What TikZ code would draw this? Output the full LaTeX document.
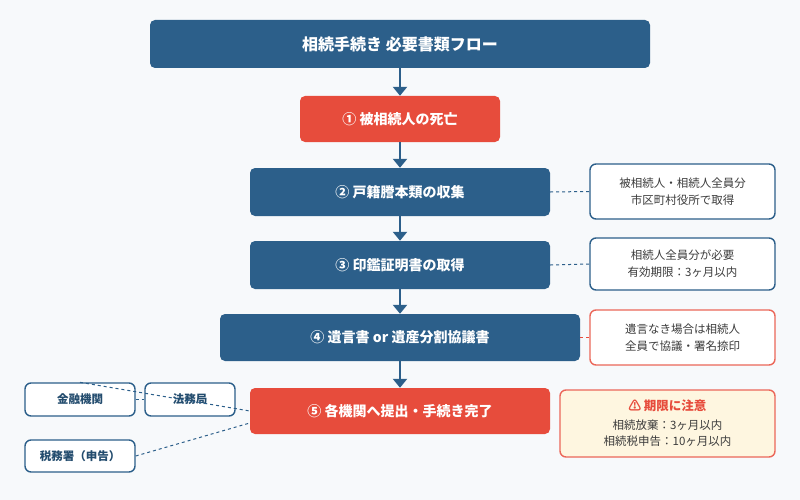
\documentclass[tikz,border=0pt]{standalone}
\usepackage{fontspec}
\setmainfont{Noto Sans CJK JP}
\usetikzlibrary{arrows.meta}
\definecolor{navy}{RGB}{44, 95, 138}
\definecolor{alert}{RGB}{231, 76, 60}
\definecolor{bg}{RGB}{247, 249, 251}
\definecolor{cream}{RGB}{254, 246, 224}
\definecolor{ink}{RGB}{60, 60, 60}

\begin{document}
\begin{tikzpicture}[x=1pt, y=-1pt,
  stage/.style={rectangle, rounded corners=5pt, fill=navy, text=white, font=\bfseries\fontsize{14}{16}\selectfont, inner sep=0pt},
  stop/.style={stage, fill=alert},
  note/.style={rectangle, rounded corners=6pt, fill=white, draw=navy, line width=1.4pt, text=ink, font=\fontsize{11.5}{13}\selectfont, align=center, inner sep=0pt},
  rednote/.style={note, draw=alert!85},
  org/.style={note, font=\bfseries\fontsize{11.5}{13}\selectfont, text=navy!80!black},
  link/.style={dashed, line width=1pt, color=navy},
  flow/.style={-{Triangle[length=9pt, width=14pt]}, line width=2.5pt, color=navy}]
\fill [bg] (0, 0) rectangle (800, 500);
\useasboundingbox (0, 0) rectangle (800, 500);
\node (title) [stage, minimum width=500pt, minimum height=48pt, font=\bfseries\fontsize{16}{18}\selectfont] at (400.0pt, -44.0pt) {相続手続き 必要書類フロー};
\node (death) [stop, minimum width=200pt, minimum height=46pt] at (400.0pt, -119.0pt) {① 被相続人の死亡};
\node (koseki) [stage, minimum width=300pt, minimum height=48pt] at (400.0pt, -192.0pt) {② 戸籍謄本類の収集};
\node (inkan) [stage, minimum width=300pt, minimum height=48pt] at (400.0pt, -265.0pt) {③ 印鑑証明書の取得};
\node (will) [stage, minimum width=360pt, minimum height=47pt] at (400.0pt, -337.5pt) {④ 遺言書 or 遺産分割協議書};
\node (submit) [stop, minimum width=300pt, minimum height=46pt] at (400.0pt, -411.0pt) {⑤ 各機関へ提出・手続き完了};
\node (n2) [note, minimum width=185pt, minimum height=55pt] at (682.5pt, -191.5pt) {被相続人・相続人全員分\\[4pt]市区町村役所で取得};
\node (n3) [note, minimum width=185pt, minimum height=52pt] at (682.5pt, -264.0pt) {相続人全員分が必要\\[4pt]有効期限：3ヶ月以内};
\node (n4) [rednote, minimum width=185pt, minimum height=55pt] at (682.5pt, -337.5pt) {遺言なき場合は相続人\\[4pt]全員で協議・署名捺印};
\node (warn) [rednote, fill=cream, minimum width=215pt, minimum height=67pt] at (667.5pt, -423.5pt) {{\bfseries\fontsize{12.5}{14}\selectfont\color{alert}⚠ 期限に注意}\\[6pt]相続放棄：3ヶ月以内\\[3pt]相続税申告：10ヶ月以内};
\node (bank) [org, minimum width=110pt, minimum height=33pt] at (80.0pt, -399.5pt) {金融機関};
\node (legal) [org, minimum width=90pt, minimum height=33pt] at (190.0pt, -399.5pt) {法務局};
\node (tax) [org, minimum width=110pt, minimum height=32pt] at (80.0pt, -456.0pt) {税務署（申告）};
\draw [flow] (title) to (death);
\draw [flow] (death) to (koseki);
\draw [flow] (koseki) to (inkan);
\draw [flow] (inkan) to (will);
\draw [flow] (will) to (submit);
\draw [link] (koseki.east) to (n2.west);
\draw [link] (inkan.east) to (n3.west);
\draw [link, color=alert] (will.east) to (n4.west);
\draw [link] (bank.north) to (submit.west);
\draw [link] (bank.east) to (legal.west);
\draw [link] (tax.east) to ([yshift=-12pt]submit.west);
\end{tikzpicture}
\end{document}
